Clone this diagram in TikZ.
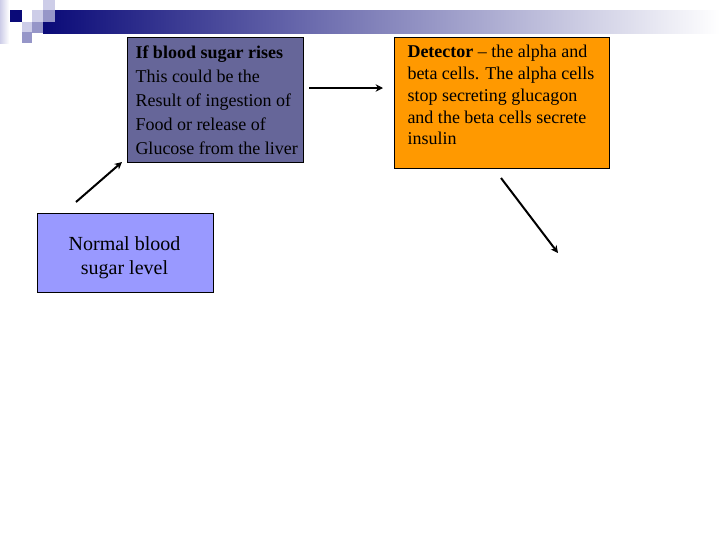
\documentclass[tikz,border=0pt]{standalone}
\usepackage{fontspec}
\setmainfont{Liberation Serif}
\usetikzlibrary{arrows.meta}
\definecolor{navyPix}{RGB}{10,10,120}
\definecolor{midPix}{RGB}{150,150,200}
\definecolor{lightPix}{RGB}{205,205,232}
\definecolor{slateBox}{RGB}{102,102,153}
\definecolor{orangeBox}{RGB}{255,153,0}
\definecolor{periBox}{RGB}{153,153,255}
\tikzset{every picture/.style={line width=0.75pt}}
\tikzset{
  boxShape/.style={draw=black, line width=0.75pt, anchor=north west, inner sep=0pt},
  boxText/.style={anchor=north west, inner sep=0pt, align=left},
  flowArrow/.style={line width=1.5pt, -{Stealth[length=5.5pt,width=5.5pt]}}
}

\begin{document}
\begin{tikzpicture}[x=0.75pt,y=0.75pt,yscale=-1,xscale=1]
\useasboundingbox (0,0) rectangle (720,540);

%Shape: title bar
\shade [left color=navyPix, right color=white] (43,10) rectangle (720,33);
\shade [left color=lightPix, right color=white] (0,0) rectangle (9,43);
%Shape: pixel squares
\fill [navyPix] (10,10) rectangle (22,22);
\fill [lightPix] (43,0) rectangle (55,10);
\fill [lightPix] (32,10) rectangle (43,22);
\fill [midPix] (43,10) rectangle (55,22);
\fill [lightPix] (22,22) rectangle (32,32);
\fill [midPix] (32,22) rectangle (43,33);
\fill [midPix] (22,32) rectangle (32,43);

%Shape: Rectangle [rise] (sizes in pt = px*0.75)
\node [boxShape, fill=slateBox, minimum width=132pt, minimum height=93.75pt] (riseBox) at (127,37) {};
%Shape: Rectangle [detector]
\node [boxShape, fill=orangeBox, minimum width=161.25pt, minimum height=98.25pt] (detectorBox) at (394,37) {};
%Shape: Rectangle [normal]
\node [boxShape, fill=periBox, minimum width=132pt, minimum height=59.25pt] (normalBox) at (37,213) {};

% Text Node
\node [boxText, font=\fontsize{13.5}{18}\selectfont] (riseText) at (135,45)
  {\textbf{If blood sugar rises}\\This could be the\\Result of ingestion of\\Food or release of\\Glucose from the liver};
% Text Node
\node [boxText, font=\fontsize{13.5}{16.3}\selectfont] (detectorText) at (407,45)
  {\textbf{Detector} -- the alpha and\\beta cells. The alpha cells\\stop secreting glucagon\\and the beta cells secrete\\insulin};
% Text Node
\node [anchor=north, inner sep=0pt, align=center, font=\fontsize{15}{18}\selectfont] (normalText) at (124.5,236)
  {Normal blood\\sugar level};

%Straight Lines [arrows]
\coordinate (riseTail) at (309,88);
\coordinate (riseHead) at (383,88);
\coordinate (detectorTail) at (501,178);
\coordinate (detectorHead) at (558,253);
\coordinate (normalTail) at (76,202);
\coordinate (normalHead) at (122,162);
\draw [flowArrow] (riseTail) -- (riseHead);
\draw [flowArrow] (detectorTail) -- (detectorHead);
\draw [flowArrow] (normalTail) -- (normalHead);

\end{tikzpicture}
\end{document}
